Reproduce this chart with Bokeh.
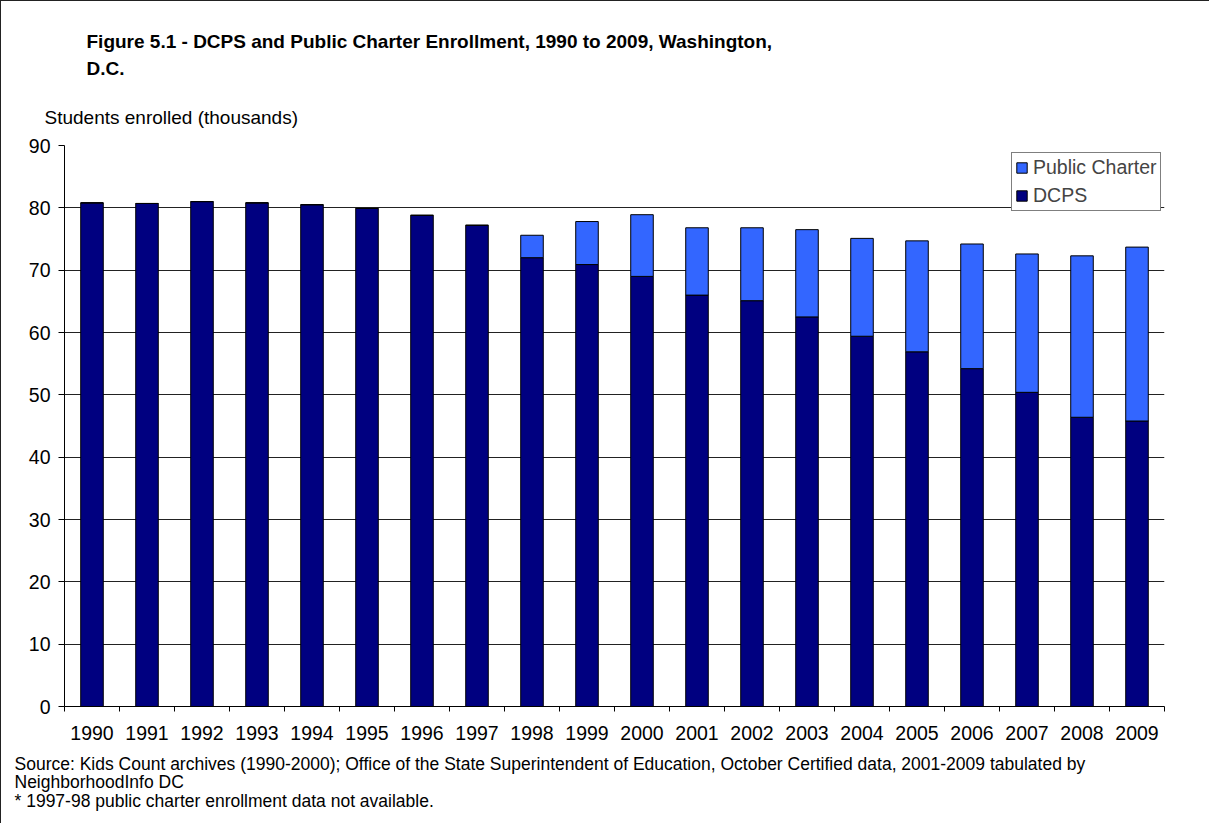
from bokeh.plotting import figure
from bokeh.models import Range1d, FixedTicker, Legend, LegendItem, Title, ColumnDataSource
from bokeh.embed import file_html
from bokeh.resources import INLINE

years = [1990, 1991, 1992, 1993, 1994, 1995, 1996, 1997, 1998, 1999,
         2000, 2001, 2002, 2003, 2004, 2005, 2006, 2007, 2008, 2009]
dcps = [80.8, 80.7, 81.0, 80.8, 80.5, 79.9, 78.8, 77.2, 72.0, 70.9,
        69.0, 66.0, 65.1, 62.5, 59.4, 56.9, 54.2, 50.4, 46.4, 45.8]
charter = [0, 0, 0, 0, 0, 0, 0, 0, 3.6, 6.9,
           9.9, 10.8, 11.7, 14.0, 15.7, 17.8, 20.0, 22.2, 25.9, 27.9]
series_names = ["DCPS", "Public Charter"]
series_colors = ["#000080", "#3366FF"]
y_ticks = [0, 10, 20, 30, 40, 50, 60, 70, 80, 90]
title_lines = ["Figure 5.1 - DCPS and Public Charter Enrollment, 1990 to 2009, Washington,",
               "D.C."]
y_label = "Students enrolled (thousands)"
source_lines = ["Source: Kids Count archives (1990-2000); Office of the State Superintendent of Education, October Certified data, 2001-2009 tabulated by",
                "NeighborhoodInfo DC",
                "* 1997-98 public charter enrollment data not available."]

FONT = "Liberation Sans"
n = len(years)
xpos = list(range(n))
src = ColumnDataSource(dict(x=xpos, dcps=dcps, charter=charter))

p = figure(width=1209, height=823, output_backend="svg", toolbar_location=None, title=None,
           x_range=Range1d(-0.5, n - 0.5), y_range=Range1d(0, 90),
           min_border_left=63, min_border_right=46, min_border_top=144, min_border_bottom=118)
p.outline_line_color = None
p.background_fill_color = "white"
p.border_fill_color = "white"
p.styles = {"border-top": "1px solid #222", "border-left": "1px solid #222"}

rs = p.vbar_stack(["dcps", "charter"], x="x", width=0.41, color=series_colors,
                  line_color="black", line_width=1, source=src)

# x axis
p.xaxis.ticker = FixedTicker(ticks=xpos, minor_ticks=[i - 0.5 for i in range(n + 1)])
p.xaxis.major_label_overrides = {i: str(y) for i, y in zip(xpos, years)}
p.xaxis.major_tick_line_color = None
p.xaxis.major_tick_out = 5
p.xaxis.major_tick_in = 0
p.xaxis.minor_tick_out = 5
p.xaxis.minor_tick_in = 0
p.xaxis.minor_tick_line_color = "black"
p.xaxis.axis_line_color = "black"
p.xaxis.major_label_standoff = 14
p.xaxis.major_label_text_font = FONT
p.xaxis.major_label_text_font_size = "19.5px"
p.xaxis.major_label_text_color = "black"

# y axis
p.yaxis.ticker = FixedTicker(ticks=y_ticks)
p.yaxis.major_tick_out = 6
p.yaxis.major_tick_in = 0
p.yaxis.minor_tick_line_color = None
p.yaxis.axis_line_color = "black"
p.yaxis.major_tick_line_color = "black"
p.yaxis.major_label_standoff = 8
p.yaxis.major_label_text_font = FONT
p.yaxis.major_label_text_font_size = "19.5px"
p.yaxis.major_label_text_color = "black"

p.xgrid.visible = False
p.ygrid.ticker = FixedTicker(ticks=y_ticks)
p.ygrid.grid_line_color = "#222222"
p.ygrid.grid_line_width = 1

legend = Legend(items=[LegendItem(label=series_names[1], renderers=[rs[1]]),
                       LegendItem(label=series_names[0], renderers=[rs[0]])],
                location=(947, 495), orientation="vertical",
                border_line_color="black", border_line_width=1,
                background_fill_color="white", background_fill_alpha=1,
                label_text_font=FONT, label_text_font_size="19.5px",
                glyph_width=13, glyph_height=13, label_standoff=5,
                padding=3, spacing=5, margin=0)
p.add_layout(legend)

# texts above the plot (stacked outward from the frame)
p.add_layout(Title(text=y_label, align="left", offset=-20, standoff=36,
                   text_font=FONT, text_font_style="normal", text_font_size="19px",
                   text_color="black"), "above")
p.add_layout(Title(text="\n".join(title_lines), align="left", offset=22, standoff=16,
                   text_font=FONT, text_font_style="bold", text_font_size="19px",
                   text_line_height=1.25, text_color="black"), "above")

# source notes below the axis
p.add_layout(Title(text="\n".join(source_lines), align="left", offset=-50, standoff=22,
                   vertical_align="top",
                   text_font=FONT, text_font_style="normal", text_font_size="17.5px",
                   text_line_height=0.93, text_color="black"), "below")

open("out.html", "w").write(file_html(p, INLINE))
